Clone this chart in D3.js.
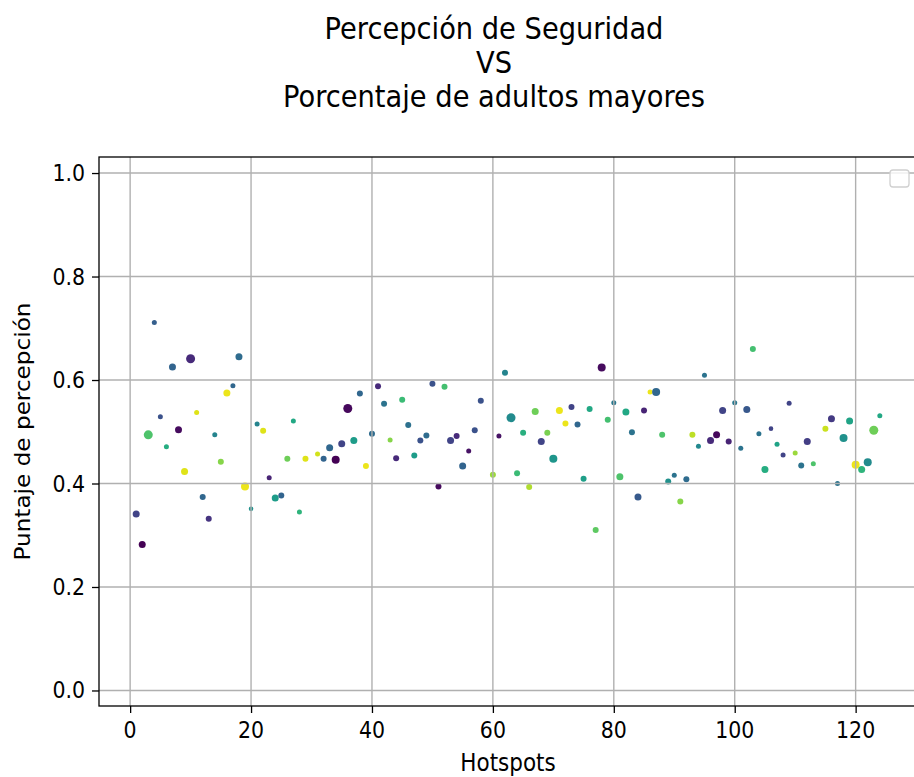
<!DOCTYPE html>
<html>
<head>
<meta charset="utf-8">
<script src="https://cdn.jsdelivr.net/npm/d3@7"></script>
<style>
  html, body { margin: 0; padding: 0; background: #fff; }
  svg { display: block; }
  text { font-family: "DejaVu Sans", sans-serif; fill: #000; }
</style>
</head>
<body>
<div id="chart"></div>
<script>
// ---- data ----
const hotspots = [1,2,3,4,5,6,7,8,9,10,11,12,13,14,15,16,17,18,19,20,21,22,23,24,25,26,27,28,29,
  31,32,33,34,35,36,37,38,39,40,41,42,43,44,45,46,47,48,49,50,51,52,53,54,55,56,57,58,
  60,61,62,63,64,65,66,67,68,69,70,71,72,73,74,75,76,77,78,79,80,81,82,83,84,85,86,87,88,89,90,
  91,92,93,94,95,96,97,98,99,100,101,102,103,104,105,106,107,108,109,110,111,112,113,
  115,116,117,118,119,120,121,122,123,124];
const puntajes = [0.341,0.282,0.494,0.711,0.529,0.471,0.625,0.504,0.423,0.641,0.537,0.374,0.332,0.494,0.442,0.575,0.589,0.645,0.394,0.351,0.515,0.502,0.411,0.372,0.377,0.448,0.521,0.345,0.448,
  0.457,0.448,0.469,0.446,0.477,0.545,0.483,0.574,0.434,0.496,0.588,0.554,0.484,0.449,0.562,0.513,0.454,0.483,0.493,0.593,0.394,0.587,0.483,0.492,0.434,0.463,0.503,0.560,
  0.417,0.492,0.614,0.527,0.420,0.498,0.393,0.539,0.481,0.498,0.448,0.541,0.516,0.548,0.514,0.409,0.544,0.310,0.624,0.523,0.556,0.413,0.538,0.499,0.374,0.541,0.577,0.577,0.494,0.404,0.416,
  0.365,0.408,0.494,0.472,0.609,0.483,0.494,0.541,0.481,0.556,0.468,0.543,0.660,0.496,0.427,0.506,0.476,0.455,0.555,0.459,0.435,0.481,0.438,
  0.506,0.525,0.400,0.488,0.521,0.436,0.427,0.441,0.503,0.531];
// colour value (viridis position) for each hotspot
const porcentajeAdultos = [0.2,0.0,0.72,0.3,0.25,0.62,0.32,0.03,0.95,0.12,0.95,0.33,0.15,0.45,0.82,0.97,0.33,0.35,0.97,0.5,0.45,0.95,0.1,0.55,0.32,0.78,0.6,0.65,0.95,
  0.93,0.32,0.33,0.0,0.2,0.02,0.55,0.33,0.97,0.35,0.12,0.38,0.82,0.12,0.68,0.37,0.55,0.25,0.35,0.25,0.03,0.7,0.2,0.12,0.32,0.05,0.25,0.25,
  0.85,0.05,0.45,0.48,0.68,0.63,0.88,0.78,0.2,0.8,0.52,0.97,0.97,0.2,0.33,0.56,0.6,0.75,0.03,0.7,0.4,0.72,0.6,0.38,0.28,0.1,0.97,0.33,0.72,0.5,0.38,
  0.82,0.35,0.9,0.47,0.38,0.12,0.02,0.2,0.1,0.4,0.38,0.27,0.7,0.38,0.62,0.2,0.58,0.2,0.2,0.85,0.38,0.18,0.72,
  0.92,0.17,0.38,0.5,0.58,0.97,0.65,0.48,0.78,0.6];
// marker size class
const tamanos = [2,2,3,1,1,1,2,2,2,3,1,1.5,1.5,1,1.5,2,1,2,2.5,0.8,1,1.5,1,2,1.5,1.5,1,1,1.5,
  1,1.5,2,2.5,2,3,2,1.5,1.5,1.5,1.5,1.5,1,1.5,1.5,1.5,1.5,1.5,1.5,1.5,1.5,1.5,2,1.5,2,1,1.5,1.5,
  1.5,1,1.5,3,1.5,1.5,1.5,2,2,1.5,2.5,2,1.5,1.5,1.5,1.5,1.5,1.5,2.5,1.5,1,2,2,1.5,2,1.5,1,2.5,1.5,1.5,1,
  1.5,1.5,1.5,1,1,2,2,2,1.5,1,1,2,1.5,1,2,0.8,1,1,1,1,1.5,2,1,
  1.5,2,1,2.5,2,2.5,2,2.5,3,1];
const xTicks = [0,20,40,60,80,100,120];
const yTicks = [0.0,0.2,0.4,0.6,0.8,1.0];
const titleLines = ["Percepción de Seguridad","VS","Porcentaje de adultos mayores"];

// ---- layout ----
const W = 914, H = 777;
const L = 99, R = 917, T = 157, B = 706;
const SY = 1.13; // vertical stretch of the lettering in the reference

const svg = d3.select("#chart").append("svg")
  .attr("width", W).attr("height", H);

const x = d3.scaleLinear().domain([-5.15, 130.15]).range([L, R]);
const y = d3.scaleLinear().domain([-0.03, 1.031]).range([B, T]);
const color = d3.scaleSequential(d3.interpolateViridis).domain([0, 1]);
const radius = d3.scaleLinear().domain([1, 3]).range([2.5, 4.5]);

const data = hotspots.map((h, i) => ({x: h, y: puntajes[i], c: porcentajeAdultos[i], s: tamanos[i]}));

// points
svg.append("g").selectAll("circle").data(data).join("circle")
  .attr("cx", d => x(d.x)).attr("cy", d => y(d.y))
  .attr("r", d => radius(d.s))
  .attr("fill", d => color(d.c));

// grid (drawn over the points, like matplotlib)
const grid = svg.append("g").attr("stroke", "#b0b0b0").attr("stroke-width", 1.4);
grid.selectAll(".gx").data(xTicks).join("line")
  .attr("x1", d => x(d)).attr("x2", d => x(d)).attr("y1", T).attr("y2", B);
grid.selectAll(".gy").data(yTicks).join("line")
  .attr("x1", L).attr("x2", R).attr("y1", d => y(d)).attr("y2", d => y(d));

// axes (tick marks from d3 axes, labels placed at the same tick positions)
const xAxis = svg.append("g").attr("transform", `translate(0,${B})`)
  .call(d3.axisBottom(x).tickValues(xTicks).tickFormat("").tickSize(7).tickSizeOuter(0));
const yAxis = svg.append("g").attr("transform", `translate(${L},0)`)
  .call(d3.axisLeft(y).tickValues(yTicks).tickFormat("").tickSize(7).tickSizeOuter(0));
[xAxis, yAxis].forEach(a => {
  a.select(".domain").remove();
  a.selectAll(".tick line").attr("stroke", "#000").attr("stroke-width", 1.3);
});
const fx = d3.format("d"), fy = d3.format(".1f");
svg.append("g").selectAll("text").data(xTicks).join("text")
  .attr("transform", d => `translate(${x(d)},${B + 32}) scale(1,${SY})`)
  .attr("text-anchor", "middle").style("font-size", "20.5px").text(d => fx(d));
svg.append("g").selectAll("text").data(yTicks).join("text")
  .attr("transform", d => `translate(${L - 14},${y(d) + 8}) scale(1,${SY})`)
  .attr("text-anchor", "end").style("font-size", "20.5px").text(d => fy(d));

// spines
svg.append("rect").attr("x", L).attr("y", T).attr("width", R - L).attr("height", B - T)
  .attr("fill", "none").attr("stroke", "#000").attr("stroke-width", 1.3);

// empty legend box
svg.append("rect").attr("x", 890).attr("y", 170).attr("width", 19).attr("height", 17)
  .attr("rx", 3).attr("fill", "#fff").attr("fill-opacity", 0.8)
  .attr("stroke", "#d0d0d0").attr("stroke-width", 1.3);

// axis labels
svg.append("text").attr("transform", `translate(${(L + R) / 2},771) scale(1,${SY})`)
  .attr("text-anchor", "middle").style("font-size", "21.5px").text("Hotspots");
svg.append("text").attr("transform", `translate(30,${(T + B) / 2}) scale(1,${SY}) rotate(-90)`)
  .attr("text-anchor", "middle").style("font-size", "20.5px").text("Puntaje de percepción");

// title
svg.append("g").selectAll("text").data(titleLines).join("text")
  .attr("transform", (d, i) => `translate(494,${39 + i * 34}) scale(1,${SY})`)
  .attr("text-anchor", "middle").style("font-size", "27.3px").text(d => d);
</script>
</body>
</html>
